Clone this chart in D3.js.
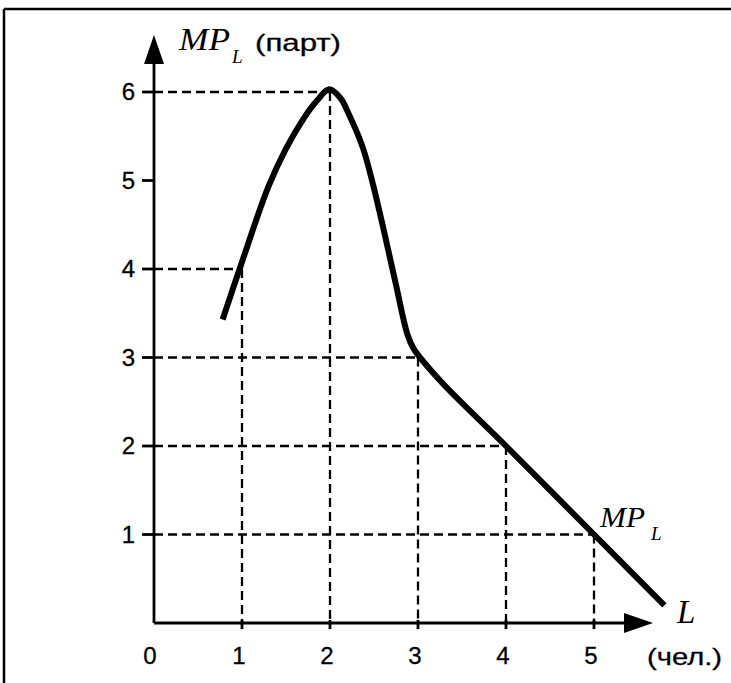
<!DOCTYPE html>
<html>
<head>
<meta charset="utf-8">
<script src="https://cdn.jsdelivr.net/npm/d3@7"></script>
<style>
  body { margin: 0; background: #fff; }
  svg { display: block; }
  .tick-label { font-family: "Liberation Sans", Arial, sans-serif; font-size: 24px; fill: #000; stroke: #000; stroke-width: 0.3; }
  .serif-it { font-family: "Liberation Serif", "Times New Roman", serif; font-style: italic; fill: #000; }
</style>
</head>
<body>
<svg id="chart" width="731" height="683"></svg>
<script>
// MP_L curve, labour (чел.) vs marginal product (парт)
const curveL = [0.78, 1.0, 1.3, 1.5, 1.7, 1.85, 1.99, 2.12, 2.2, 2.37, 2.49, 2.62, 2.75, 2.88, 2.95, 3.25, 4, 5, 5.8]
const curveMP = [3.43, 4.08, 4.93, 5.36, 5.7, 5.9, 6.03, 5.93, 5.78, 5.38, 4.95, 4.4, 3.82, 3.26, 3.1, 2.74, 2, 1, 0.2]

// points marked with dashed guides
const guideL = [1, 2, 3, 4, 5]
const guideMP = [4, 6, 3, 2, 1]

const xTicks = [0, 1, 2, 3, 4, 5]
const yTicks = [1, 2, 3, 4, 5, 6]

const svg = d3.select("#chart")

const x = d3.scaleLinear().domain([0, 5]).range([154, 594])
const y = d3.scaleLinear().domain([0, 6]).range([623, 92])

// frame (only top and left edges visible in the scan)
svg.append("line").attr("x1", 4).attr("y1", 9).attr("x2", 731).attr("y2", 9)
	.attr("stroke", "#000").attr("stroke-width", 2.5)
svg.append("line").attr("x1", 4).attr("y1", 9).attr("x2", 4).attr("y2", 683)
	.attr("stroke", "#000").attr("stroke-width", 2.5)

// dashed guides
const guides = svg.append("g")
	.attr("stroke", "#000")
	.attr("stroke-width", 2.3)
	.attr("stroke-dasharray", "9,5")
	.attr("fill", "none")

guideL.forEach((l, i) => {
	const mp = guideMP[i]
	guides.append("line")
		.attr("x1", x(0)).attr("y1", y(mp))
		.attr("x2", x(l)).attr("y2", y(mp))
	guides.append("line")
		.attr("x1", x(l)).attr("y1", y(mp))
		.attr("x2", x(l)).attr("y2", y(0))
})

// axes
const axisG = svg.append("g").attr("stroke", "#000").attr("stroke-width", 2.8)
axisG.append("line").attr("x1", x(0)).attr("y1", y(0)).attr("x2", x(0)).attr("y2", 55)
axisG.append("line").attr("x1", x(0)).attr("y1", y(0)).attr("x2", 630).attr("y2", y(0))

svg.append("path")
	.attr("d", `M${x(0)},35 L${x(0) - 10},64 L${x(0) + 10},64 Z`)
	.attr("fill", "#000")
svg.append("path")
	.attr("d", `M653,${y(0)} L624,${y(0) - 10} L624,${y(0) + 10} Z`)
	.attr("fill", "#000")

// ticks
axisG.selectAll(".ytick")
	.data(yTicks)
	.join("line")
	.attr("x1", x(0) - 12).attr("x2", x(0))
	.attr("y1", d => y(d)).attr("y2", d => y(d))
axisG.selectAll(".xtick")
	.data(xTicks.filter(d => d > 0))
	.join("line")
	.attr("x1", d => x(d)).attr("x2", d => x(d))
	.attr("y1", y(0) - 3).attr("y2", y(0) + 6)

svg.selectAll(".ylab")
	.data(yTicks)
	.join("text")
	.attr("class", "tick-label")
	.attr("x", x(0) - 19)
	.attr("y", d => y(d) + 8)
	.attr("text-anchor", "end")
	.text(d => d)

svg.selectAll(".xlab")
	.data(xTicks)
	.join("text")
	.attr("class", "tick-label")
	.attr("x", d => d === 0 ? x(0) - 4 : x(d) - 3)
	.attr("y", 664)
	.attr("text-anchor", "middle")
	.text(d => d)

// the curve
const line = d3.line()
	.x((d, i) => x(curveL[i]))
	.y(d => y(d))
	.curve(d3.curveCatmullRom.alpha(0.5))

svg.append("path")
	.datum(curveMP)
	.attr("d", line)
	.attr("fill", "none")
	.attr("stroke", "#000")
	.attr("stroke-width", 6)
	.attr("stroke-linecap", "butt")
	.attr("stroke-linejoin", "round")

// axis titles
svg.append("text").attr("class", "serif-it")
	.attr("x", 179).attr("y", 50).attr("font-size", 31)
	.attr("textLength", 51).attr("lengthAdjust", "spacingAndGlyphs")
	.text("MP")
svg.append("text").attr("class", "serif-it")
	.attr("x", 232).attr("y", 63).attr("font-size", 19)
	.text("L")

svg.append("text").attr("class", "tick-label")
	.attr("x", 255).attr("y", 51)
	.attr("font-size", 26).attr("stroke-width", 0.2)
	.attr("textLength", 86).attr("lengthAdjust", "spacingAndGlyphs")
	.text("(парт)")

svg.append("text").attr("class", "serif-it")
	.attr("x", 600).attr("y", 527).attr("font-size", 30)
	.attr("textLength", 45).attr("lengthAdjust", "spacingAndGlyphs")
	.text("MP")
svg.append("text").attr("class", "serif-it")
	.attr("x", 651).attr("y", 540).attr("font-size", 19)
	.text("L")

svg.append("text").attr("class", "serif-it")
	.attr("x", 677).attr("y", 623).attr("font-size", 33)
	.text("L")

svg.append("text").attr("class", "tick-label")
	.attr("x", 647).attr("y", 665)
	.attr("textLength", 75).attr("lengthAdjust", "spacingAndGlyphs")
	.attr("font-size", 25)
	.text("(чел.)")
</script>
</body>
</html>
